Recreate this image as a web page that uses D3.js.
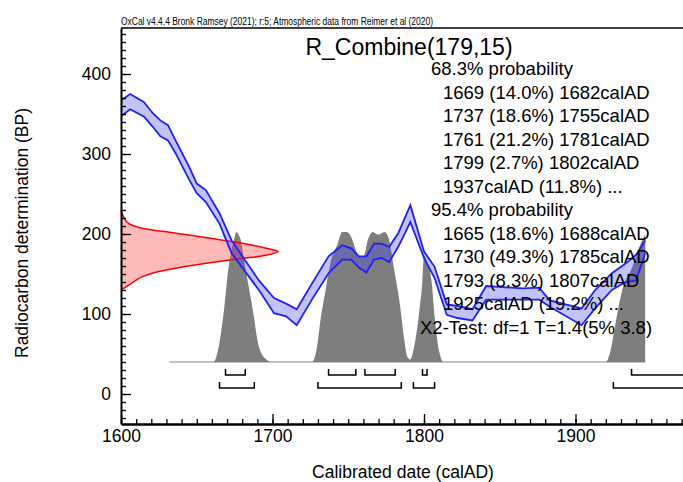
<!DOCTYPE html>
<html>
<head>
<meta charset="utf-8">
<script src="https://cdn.jsdelivr.net/npm/d3@7"></script>
<style>
  body { margin: 0; background: #fff; }
  svg { display: block; }
  text { font-family: "Liberation Sans", Arial, sans-serif; fill: #000; }
</style>
</head>
<body>
<svg id="chart" width="683" height="482"></svg>
<script>
// calibration curve (IntCal20), upper / lower edge of 1 sigma band, BP
const calYear = [1600,1606,1615,1621,1626,1631,1636,1645,1650,1656,1665,1673,1682,1691,1701,1709,1716,1726,1737,1746,1752,1757,1762,1767,1772,1777,1783,1791,1800,1807,1815,1822,1832,1841,1865,1876,1883,1904,1913,1924,1933,1940,1946];
const calHi   = [367,375,365,351,342,336,317,284,263,255,226,192,167,142,120,113,106,138,172,186,182,172,172,188,188,184,201,236,178,159,112,110,106,135,132,133,117,107,130,151,163,174,192];
const calLo   = [347,356,347,334,322,317,301,268,251,240,213,176,153,130,101,97,86,118,151,168,168,158,152,168,170,165,184,215,170,145,99,95,92,118,118,118,109,86,107,130,140,142,176];

// radiocarbon measurement 179±15 BP: [BP, relative density]
const measured = [[230,0],[220,0.02],[213,0.05],[207,0.14],[201,0.35],[195,0.56],[188,0.78],[182,0.93],[178,1],
                  [172,0.88],[167,0.67],[161,0.46],[153,0.24],[147,0.14],[136,0.05],[130,0]];

// calibrated probability: [calAD, relative probability]
const calibrated = [[1632,0],[1658,0],[1661,0],[1665,0.15],[1668,0.40],[1671,0.73],[1675,0.96],[1676,1],[1679,0.94],
  [1682,0.73],[1687,0.40],[1691,0.12],[1696,0.02],[1700,0],[1724,0],[1726,0],[1729,0.09],[1732,0.35],[1735,0.55],
  [1738,0.75],[1743,0.91],[1746,1],[1749,1],[1752,0.96],[1755,0.86],[1757,0.81],[1760,0.81],[1763,0.94],[1766,1],
  [1770,0.98],[1774,1],[1777,0.94],[1780,0.73],[1784,0.45],[1787,0.17],[1789,0.04],[1791,0.02],[1793,0.09],
  [1797,0.40],[1799,0.63],[1800,0.82],[1802,0.77],[1805,0.62],[1807,0.35],[1810,0.08],[1813,0],[1917,0],[1920,0],
  [1923,0.08],[1926,0.27],[1929,0.46],[1932,0.60],[1936,0.69],[1940,0.81],[1943,0.91],[1946,0.98]];

// ranges (null = open ended)
const range68 = [[1669,1682],[1737,1755],[1761,1781],[1799,1802],[1937,null]];
const range95 = [[1665,1688],[1730,1785],[1793,1807],[1925,null]];

const xTicks = [1600,1700,1800,1900];
const yTicks = [0,100,200,300,400];

const header = 'OxCal v4.4.4 Bronk Ramsey (2021); r:5; Atmospheric data from Reimer et al (2020)';
const title = 'R_Combine(179,15)';
const summary68 = ['1669 (14.0%) 1682calAD','1737 (18.6%) 1755calAD','1761 (21.2%) 1781calAD','1799 (2.7%) 1802calAD','1937calAD (11.8%) ...'];
const summary95 = ['1665 (18.6%) 1688calAD','1730 (49.3%) 1785calAD','1793 (8.3%) 1807calAD','1925calAD (19.2%) ...'];
const chiTest = 'X2-Test: df=1 T=1.4(5% 3.8)';

const svg = d3.select('#chart');

const x = d3.scaleLinear().domain([1600, 2000]).range([121, 727]);
const y = d3.scaleLinear().domain([-37.5, 457.5]).range([424, 28]);
const pY = d3.scaleLinear().domain([0, 1]).range([362, 232]);
const mX = d3.scaleLinear().domain([0, 1]).range([121, 278]);

// calibrated distribution
svg.append('line')
    .attr('x1', x(calibrated[0][0])).attr('x2', x(calibrated[calibrated.length - 1][0]))
    .attr('y1', pY(0)).attr('y2', pY(0))
    .style('stroke', '#888').style('stroke-width', 1);

svg.append('path')
    .datum(calibrated)
    .attr('d', d3.area().curve(d3.curveMonotoneX).x(d => x(d[0])).y0(pY(0)).y1(d => pY(d[1])))
    .style('fill', '#7e7e7e');

// measured date on y axis
svg.append('path')
    .datum(measured)
    .attr('d', d3.area().curve(d3.curveMonotoneY).y(d => y(d[0])).x0(mX(0)).x1(d => mX(d[1])))
    .style('fill', '#ff5050').style('fill-opacity', 0.4);

svg.append('path')
    .datum(measured)
    .attr('d', d3.line().curve(d3.curveMonotoneY).y(d => y(d[0])).x(d => mX(d[1])))
    .style('fill', 'none').style('stroke', '#f00').style('stroke-width', 1.5);

// calibration curve band
const cal = calYear.map((yr, i) => ({ yr: yr, hi: calHi[i], lo: calLo[i] }));

svg.append('path')
    .datum(cal)
    .attr('d', d3.area().x(d => x(d.yr)).y0(d => y(d.lo)).y1(d => y(d.hi)))
    .style('fill', '#4545ff').style('fill-opacity', 0.33);

['hi', 'lo'].forEach(function(k) {
    svg.append('path')
        .datum(cal)
        .attr('d', d3.line().x(d => x(d.yr)).y(d => y(d[k])))
        .style('fill', 'none').style('stroke', '#1f1fff').style('stroke-width', 1.8);
});

// range brackets
function brackets(ranges, top, bottom) {
    svg.append('g').selectAll('path')
        .data(ranges)
        .enter()
        .append('path')
        .attr('d', function(d) {
            let x1 = x(d[0]);
            if (d[1] === null) return 'M' + x1 + ',' + top + 'V' + bottom + 'H' + x(2000);
            let x2 = x(d[1]);
            return 'M' + x1 + ',' + top + 'V' + bottom + 'H' + x2 + 'V' + top;
        })
        .style('fill', 'none').style('stroke', '#000').style('stroke-width', 1.5);
}
brackets(range68, 369, 375);
brackets(range95, 382, 388);

// axes
const xAxis = svg.append('g').attr('transform', 'translate(0,424)')
    .call(d3.axisBottom(x).tickValues(xTicks).tickFormat(d3.format('d'))
        .tickSizeInner(-10).tickSizeOuter(0).tickPadding(6));
svg.append('g').attr('transform', 'translate(0,424)')
    .call(d3.axisBottom(x).tickValues(d3.range(1600, 2001, 10)).tickSize(-5).tickFormat(''))
    .call(g => g.select('.domain').remove());

const yAxis = svg.append('g').attr('transform', 'translate(121,0)')
    .call(d3.axisLeft(y).tickValues(yTicks).tickSizeInner(-10).tickSizeOuter(0).tickPadding(10));
svg.append('g').attr('transform', 'translate(121,0)')
    .call(d3.axisLeft(y).tickValues(d3.range(-30, 451, 10)).tickSize(-5).tickFormat(''))
    .call(g => g.select('.domain').remove());

svg.selectAll('.tick line').style('stroke', '#000').style('stroke-width', 1.3);
xAxis.select('.domain').style('stroke', '#000').style('stroke-width', 2.5);
yAxis.select('.domain').style('stroke', '#000').style('stroke-width', 2);
svg.selectAll('.tick text').style('font-size', '17.5px')
    .style('font-family', '"Liberation Sans", Arial, sans-serif').style('fill', '#000');

svg.append('line')
    .attr('x1', x(1600)).attr('x2', x(2000)).attr('y1', y(457.5)).attr('y2', y(457.5))
    .style('stroke', '#000').style('stroke-width', 1.5);

// texts
svg.append('text').attr('x', 121).attr('y', 25)
    .attr('textLength', 312).attr('lengthAdjust', 'spacingAndGlyphs')
    .style('font-size', '10px').text(header);

svg.append('text').attr('x', 409).attr('y', 55).attr('text-anchor', 'middle')
    .style('font-size', '23px').text(title);

const lines = [{ t: '68.3% probability', x: 431 }]
    .concat(summary68.map(t => ({ t: t, x: 443 })))
    .concat([{ t: '95.4% probability', x: 431 }])
    .concat(summary95.map(t => ({ t: t, x: 443 })))
    .concat([{ t: chiTest, x: 420 }]);

svg.append('g').selectAll('text')
    .data(lines)
    .enter()
    .append('text')
    .attr('x', d => d.x)
    .attr('y', (d, i) => 75 + i * 23.5)
    .style('font-size', '18.5px')
    .text(d => d.t);

svg.append('text')
    .attr('transform', 'translate(28,233) rotate(-90)')
    .attr('text-anchor', 'middle')
    .style('font-size', '17.5px')
    .text('Radiocarbon determination (BP)');

svg.append('text').attr('x', 403).attr('y', 478).attr('text-anchor', 'middle')
    .style('font-size', '17.5px')
    .text('Calibrated date (calAD)');
</script>
</body>
</html>
